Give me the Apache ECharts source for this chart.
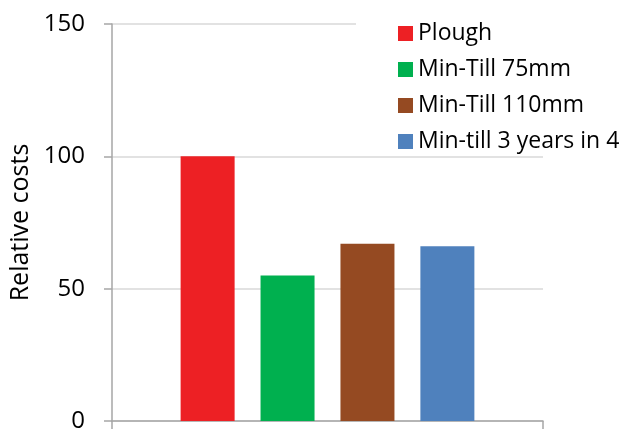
<!DOCTYPE html>
<html>
<head>
<meta charset="utf-8">
<script src="https://cdn.jsdelivr.net/npm/echarts@6/dist/echarts.min.js"></script>
<style>
  html, body { margin: 0; padding: 0; background: #fff; }
  #chart { width: 630px; height: 430px; }
</style>
</head>
<body>
<div id="chart"></div>
<script>
// data
var categories = [""];
var seriesNames = ["Plough", "Min-Till 75mm", "Min-Till 110mm", "Min-till 3 years in 4"];
var seriesValues = [100, 55, 67, 66];
var seriesColors = ["#ED2024", "#00B04F", "#954A22", "#4F81BD"];
var yTicks = [0, 50, 100, 150];

var font = "Open Sans";

var chart = echarts.init(document.getElementById("chart"));

var series = seriesNames.map(function (name, i) {
  return {
    name: name,
    type: "bar",
    data: [seriesValues[i]],
    barWidth: 54,
    barGap: "48%",
    itemStyle: { color: seriesColors[i] },
    z: 2,
  };
});

chart.setOption({
  animation: false,
  textStyle: { fontFamily: font },
  grid: { left: 112, right: 87, top: 24, bottom: 9, containLabel: false, outerBoundsMode: "none" },
  legend: {
    orient: "vertical",
    left: 356,
    top: 14,
    padding: [8, 10, 2, 42],
    backgroundColor: "#fff",
    z: 10,
    itemWidth: 15,
    itemHeight: 15,
    itemGap: 13,
    icon: "rect",
    textStyle: { fontFamily: font, fontSize: 23, lineHeight: 22, color: "#000" },
    data: seriesNames,
  },
  xAxis: {
    type: "category",
    data: categories,
    axisLine: { lineStyle: { color: "#a6a6a6", width: 1.5 } },
    axisTick: { show: true, length: 8, lineStyle: { color: "#a6a6a6", width: 1.5 } },
    axisLabel: { show: false },
  },
  yAxis: {
    type: "value",
    min: yTicks[0],
    max: yTicks[yTicks.length - 1],
    interval: yTicks[1] - yTicks[0],
    name: "Relative costs",
    nameLocation: "middle",
    nameGap: 74,
    nameTextStyle: { fontFamily: font, fontSize: 25, color: "#000" },
    axisLine: { show: true, lineStyle: { color: "#a6a6a6", width: 1.5 } },
    axisTick: { show: true, length: 8, lineStyle: { color: "#a6a6a6", width: 1.5 } },
    axisLabel: { fontFamily: font, fontSize: 24, color: "#000", margin: 27 },
    splitLine: { lineStyle: { color: "#d9d9d9", width: 1.5 } },
  },
  series: series,
});
</script>
</body>
</html>
